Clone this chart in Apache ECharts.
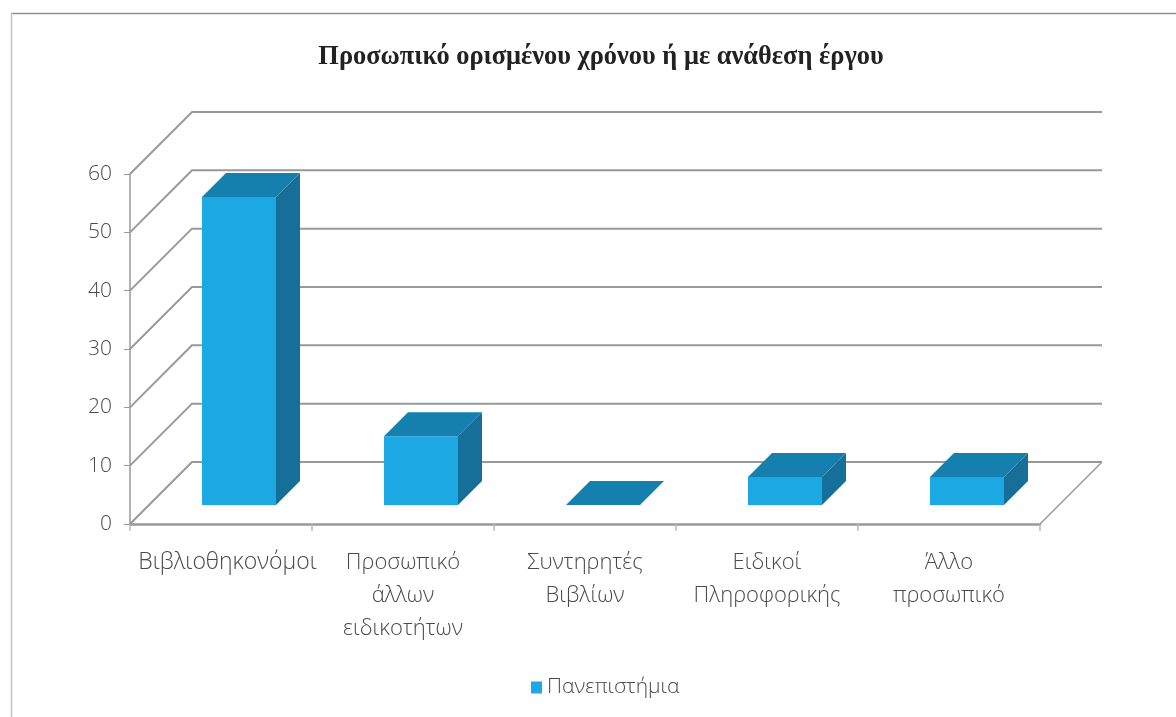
<!DOCTYPE html>
<html><head><meta charset="utf-8">
<style>html,body{margin:0;padding:0;background:#fff}#c{width:1176px;height:717px}</style>
<script src="https://cdn.jsdelivr.net/npm/echarts@6/dist/echarts.min.js"></script>
</head><body><div id="c"></div>
<script>
const categories = ['Βιβλιοθηκονόμοι','Προσωπικό\nάλλων\nειδικοτήτων','Συντηρητές\nΒιβλίων','Ειδικοί\nΠληροφορικής','Άλλο\nπροσωπικό'];
const seriesName = 'Πανεπιστήμια';
const values = [52.8, 11.8, 0, 4.8, 4.8];
const yTicks = [0, 10, 20, 30, 40, 50, 60];
const titleText = 'Προσωπικό ορισμένου χρόνου ή με ανάθεση έργου';

const WALL = 62, OFF_X = 18, OFF_Y = 19, BAR_W = 74, DEPTH = 24;
const LINE = '#999999', TEXT = '#4a4a4a', FF = '"Open Sans", "Noto Sans", sans-serif';
const FRONT = '#1CA8E3', TOP = '#1580AD', SIDE = '#156F99';
const labelStyle = {fontFamily: FF, fontWeight: 300, fontSize: 22, lineHeight: 33, color: TEXT};

const chart = echarts.init(document.getElementById('c'), null, {renderer: 'canvas'});
chart.setOption({
  animation: false,
  backgroundColor: '#ffffff',
  title: {text: titleText, left: 596, top: 39, textAlign: 'center',
    textStyle: {fontFamily: '"Liberation Serif", serif', fontWeight: 'bold', fontSize: 26.4, color: '#222'}},
  legend: {left: 526, top: 672, itemWidth: 11, itemHeight: 12, itemGap: 7, icon: 'rect',
    data: [{name: seriesName, itemStyle: {color: FRONT}}],
    textStyle: {fontFamily: FF, fontWeight: 300, fontSize: 21, color: TEXT}},
  grid: {left: 130, right: 136, top: 174, bottom: 193},
  xAxis: {type: 'category', data: categories,
    axisLine: {lineStyle: {color: LINE, width: 2.5}},
    axisTick: {show: true, length: 7, lineStyle: {color: '#bbb', width: 1.5}},
    axisLabel: Object.assign({margin: 22, interval: 0,
      formatter: (v, i) => i === 0 ? '{first|' + v + '}' : v,
      rich: {first: Object.assign({}, labelStyle, {fontSize: 23, padding: [0, 0, 0, 13]})}}, labelStyle),
    splitLine: {show: false}},
  yAxis: {type: 'value', min: 0, max: 60, interval: 10,
    axisLine: {show: true, lineStyle: {color: LINE, width: 1.5}},
    axisTick: {show: true, length: 6, lineStyle: {color: LINE, width: 1}},
    axisLabel: {margin: 18, padding: [3, 0, 0, 0], fontFamily: FF, fontWeight: 300, fontSize: 21, color: TEXT},
    splitLine: {show: false}},
  graphic: [
    {type: 'line', shape: {x1: 11, y1: 13.5, x2: 1176, y2: 13.5}, style: {stroke: '#8f8f8f', lineWidth: 1.5}},
    {type: 'line', shape: {x1: 11.5, y1: 13, x2: 11.5, y2: 717}, style: {stroke: '#c4c4c4', lineWidth: 1.5}}
  ],
  series: [
    {type: 'custom', name: 'walls', silent: true, z: 1,
      data: yTicks.map(t => [0, t]),
      encode: {x: 0, y: 1},
      renderItem(params, api) {
        const g = params.coordSys, y = api.coord([0, api.value(1)])[1];
        const kids = [{type: 'polyline', shape: {points: [[g.x, y], [g.x + WALL, y - WALL], [g.x + g.width + WALL, y - WALL]]},
          style: {fill: 'none', stroke: LINE, lineWidth: 2}}];
        if (api.value(1) === 0) kids.push({type: 'line', shape: {x1: g.x + g.width, y1: y, x2: g.x + g.width + WALL, y2: y - WALL},
          style: {stroke: LINE, lineWidth: 1.5}});
        return {type: 'group', children: kids};
      }},
    {type: 'custom', name: seriesName, silent: true, z: 3,
      data: values.map((v, i) => [i, v]),
      encode: {x: 0, y: 1},
      renderItem(params, api) {
        const base = api.coord([api.value(0), 0]), top = api.coord([api.value(0), api.value(1)]);
        const l = base[0] + OFF_X - BAR_W / 2, r = l + BAR_W, b = base[1] - OFF_Y, t = top[1] - OFF_Y, d = DEPTH;
        return {type: 'group', children: [
          {type: 'polygon', shape: {points: [[l, b], [r, b], [r, t], [l, t]]}, style: {fill: FRONT}},
          {type: 'polygon', shape: {points: [[r, b], [r + d, b - d], [r + d, t - d], [r, t]]}, style: {fill: SIDE}},
          {type: 'polygon', shape: {points: [[l, t], [r, t], [r + d, t - d], [l + d, t - d]]}, style: {fill: TOP}}
        ]};
      }}
  ]
});
</script></body></html>
